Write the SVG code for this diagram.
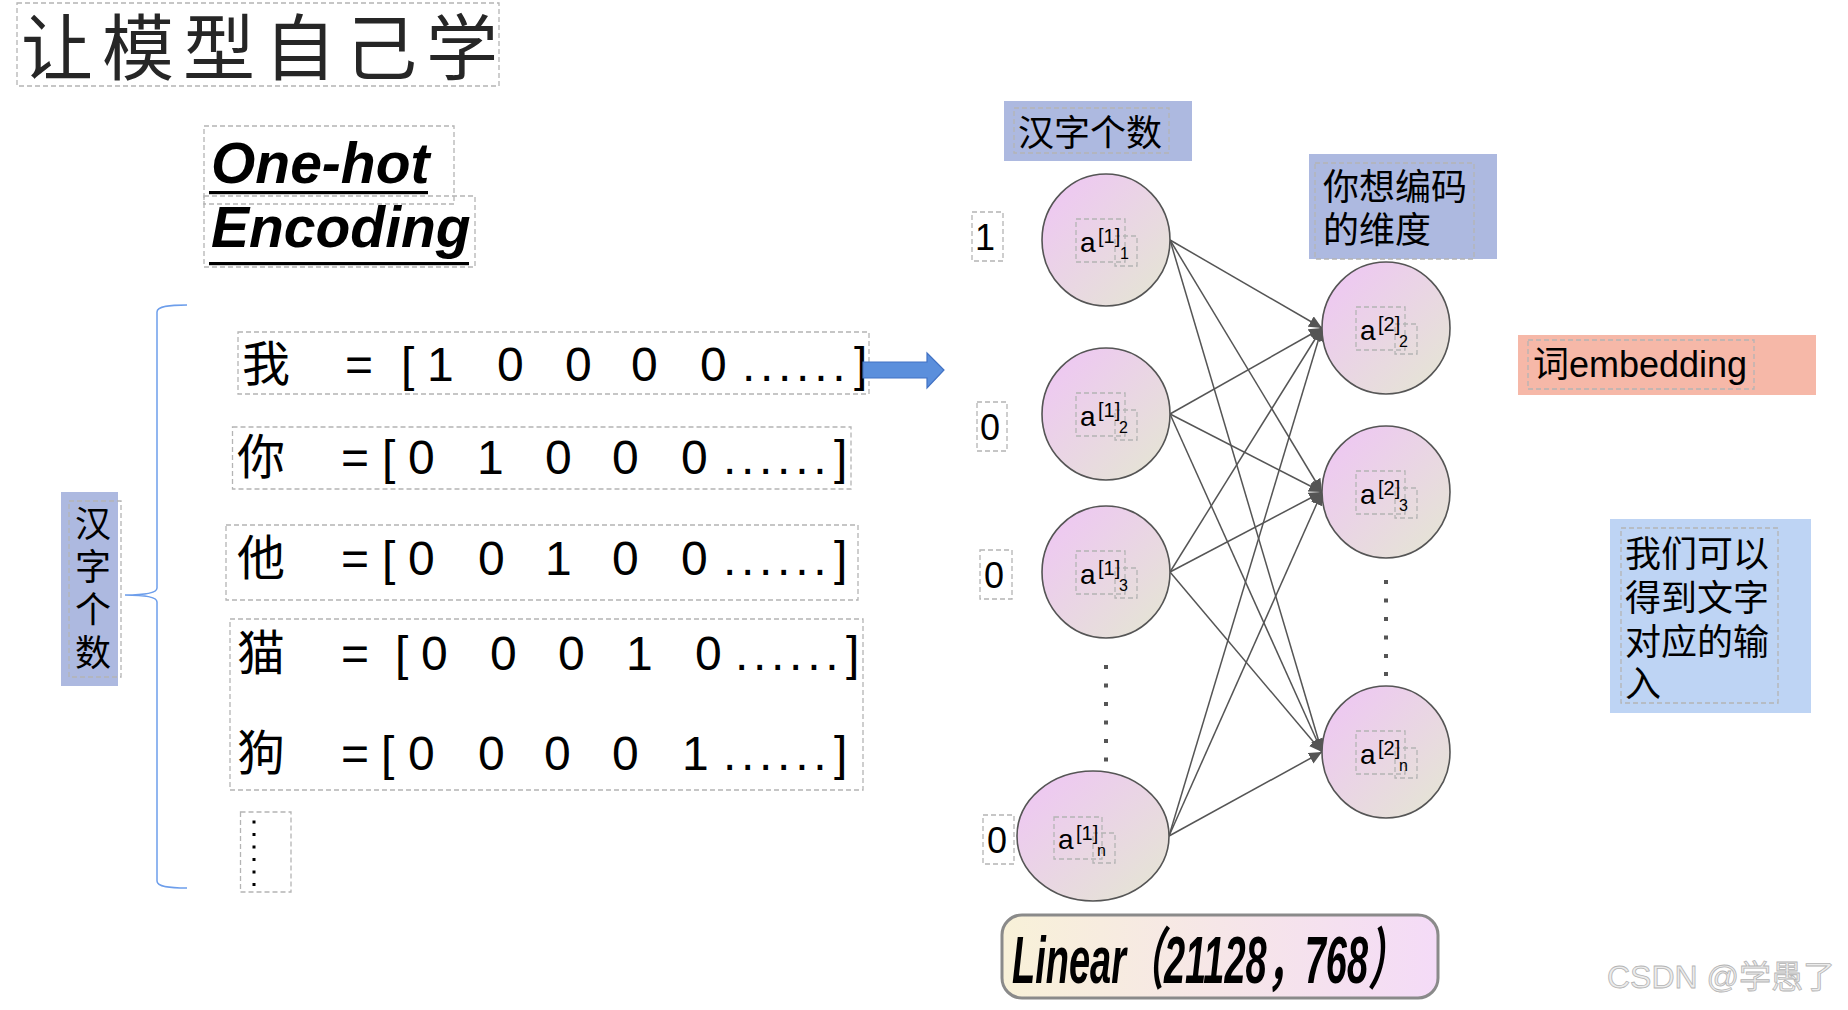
<svg xmlns="http://www.w3.org/2000/svg" width="1848" height="1010" viewBox="0 0 1848 1010">
<defs>
<linearGradient id="ng" x1="0" y1="0" x2="1" y2="1">
<stop offset="0" stop-color="#efc4f6"/>
<stop offset="1" stop-color="#e4e7d2"/>
</linearGradient>
<linearGradient id="lg" x1="0" y1="0" x2="1" y2="0">
<stop offset="0" stop-color="#f8f1d8"/>
<stop offset="1" stop-color="#f4dbf7"/>
</linearGradient>
<marker id="ah" markerUnits="userSpaceOnUse" markerWidth="14" markerHeight="12" refX="13" refY="6" orient="auto">
<path d="M0,0 L13,6 L0,12 z" fill="#555"/>
</marker>
<style>
.dash{fill:none;stroke:#b4b4b4;stroke-width:1.3;stroke-dasharray:5 3}
.node{fill:url(#ng);stroke:#555;stroke-width:1.6}
.edge{stroke:#555;stroke-width:1.5;fill:none;marker-end:url(#ah)}
.row{font-family:"Liberation Sans","Noto Sans CJK SC",sans-serif;font-size:48px;fill:#000}
.dots{letter-spacing:4.7px}
.cjk{font-family:"Noto Sans CJK SC",sans-serif;fill:#000}
.lab{font-family:"Liberation Sans","Noto Sans CJK SC",sans-serif;font-size:36px;fill:#000}
.na{font-family:"Liberation Sans",sans-serif;fill:#000}
.dot{fill:#555}
</style>
</defs>
<rect width="1848" height="1010" fill="#fff"/>

<g id="title">
<rect class="dash" x="17" y="3" width="482" height="83"/>
<text x="21" y="74" font-family="Noto Sans CJK SC, sans-serif" font-size="72" letter-spacing="9" fill="#262626">让模型自己学</text>
</g>

<g id="onehot">
<rect class="dash" x="204" y="126" width="250" height="78"/>
<text x="211" y="183" font-family="Liberation Sans, sans-serif" font-size="57" font-weight="bold" font-style="italic">One-hot</text>
<rect x="209" y="191" width="219" height="3.2" fill="#000"/>
</g>
<g id="encoding">
<rect class="dash" x="204" y="196" width="271" height="71"/>
<text x="211" y="247" font-family="Liberation Sans, sans-serif" font-size="57" font-weight="bold" font-style="italic">Encoding</text>
<rect x="209" y="262" width="260" height="3.2" fill="#000"/>
</g>

<g id="brace">
<path d="M187,305 C170,305 157,306 157,312 L157,588 C157,593 146,595 125,595 C146,595 157,597 157,602 L157,881 C157,887 170,888 187,888" fill="none" stroke="#6d9eeb" stroke-width="1.5"/>
</g>

<g id="count-label-left">
<rect x="61" y="492" width="57" height="194" fill="#adb9e0"/>
<rect class="dash" x="69" y="501" width="52" height="176"/>
<text class="cjk" font-size="36" text-anchor="middle"><tspan x="93" y="537">汉</tspan><tspan x="93" y="580">字</tspan><tspan x="93" y="623">个</tspan><tspan x="93" y="666">数</tspan></text>
</g>

<g id="row-wo">
<rect class="dash" x="238" y="332" width="631" height="62"/>
<text class="row" y="381"><tspan x="242">我</tspan><tspan x="345">=</tspan><tspan x="401">[</tspan><tspan x="427">1</tspan><tspan x="497">0</tspan><tspan x="565">0</tspan><tspan x="631">0</tspan><tspan x="700">0</tspan><tspan class="dots" x="742">......</tspan><tspan x="854">]</tspan></text>
</g>
<g id="arrow">
<polygon points="863,362 927,362 927,353 944,370 927,388 927,378 863,378" fill="#5b8fdc" stroke="#4272c4" stroke-width="1.2"/>
</g>
<g id="row-ni">
<rect class="dash" x="232.5" y="427" width="618.5" height="62"/>
<text class="row" y="474"><tspan x="237">你</tspan><tspan x="341">=</tspan><tspan x="382">[</tspan><tspan x="408">0</tspan><tspan x="477">1</tspan><tspan x="545">0</tspan><tspan x="612">0</tspan><tspan x="681">0</tspan><tspan class="dots" x="723">......</tspan><tspan x="834">]</tspan></text>
</g>
<g id="row-ta">
<rect class="dash" x="226" y="525" width="632" height="75"/>
<text class="row" y="575"><tspan x="237">他</tspan><tspan x="341">=</tspan><tspan x="382">[</tspan><tspan x="408">0</tspan><tspan x="478">0</tspan><tspan x="545">1</tspan><tspan x="612">0</tspan><tspan x="681">0</tspan><tspan class="dots" x="723">......</tspan><tspan x="834">]</tspan></text>
</g>
<g id="row-mao-gou">
<rect class="dash" x="230" y="619" width="633" height="171"/>
<text class="row" y="670"><tspan x="237">猫</tspan><tspan x="341">=</tspan><tspan x="395">[</tspan><tspan x="421">0</tspan><tspan x="490">0</tspan><tspan x="558">0</tspan><tspan x="626">1</tspan><tspan x="695">0</tspan><tspan class="dots" x="735">......</tspan><tspan x="846">]</tspan></text>
<text class="row" y="770"><tspan x="237">狗</tspan><tspan x="341">=</tspan><tspan x="381">[</tspan><tspan x="408">0</tspan><tspan x="478">0</tspan><tspan x="544">0</tspan><tspan x="612">0</tspan><tspan x="682">1</tspan><tspan class="dots" x="723">......</tspan><tspan x="834">]</tspan></text>
</g>
<g id="row-more">
<rect class="dash" x="240.5" y="812" width="50.5" height="80"/>
<g fill="#000"><rect x="252.5" y="820.5" width="3" height="3"/><rect x="252.5" y="833" width="3" height="3"/><rect x="252.5" y="845.5" width="3" height="3"/><rect x="252.5" y="858" width="3" height="3"/><rect x="252.5" y="870.5" width="3" height="3"/><rect x="252.5" y="883" width="3" height="3"/></g>
</g>

<g id="count-label-top">
<rect x="1004" y="101" width="188" height="60" fill="#adb9e0"/>
<rect class="dash" x="1014" y="108" width="155" height="45"/>
<text class="lab" x="1018" y="146">汉字个数</text>
</g>
<g id="dim-label">
<rect x="1309" y="154" width="188" height="105" fill="#adb9e0"/>
<rect class="dash" x="1315" y="163" width="159" height="96"/>
<text class="lab"><tspan x="1323" y="200">你想编码</tspan><tspan x="1323" y="243">的维度</tspan></text>
</g>
<g id="embedding-label">
<rect x="1518" y="335" width="298" height="60" fill="#f6b8a8"/>
<rect class="dash" x="1528" y="340" width="226" height="49"/>
<text class="lab" x="1533" y="377">词embedding</text>
</g>
<g id="input-label">
<rect x="1610" y="519" width="201" height="194" fill="#bed4f4"/>
<rect class="dash" x="1621" y="528" width="157" height="175"/>
<text class="lab"><tspan x="1625" y="567">我们可以</tspan><tspan x="1625" y="611">得到文字</tspan><tspan x="1625" y="655">对应的输</tspan><tspan x="1625" y="697">入</tspan></text>
</g>

<g id="connectors">
<line class="edge" x1="1170" y1="240" x2="1322" y2="328"/>
<line class="edge" x1="1170" y1="240" x2="1322" y2="492"/>
<line class="edge" x1="1170" y1="240" x2="1322" y2="752"/>
<line class="edge" x1="1170" y1="414" x2="1322" y2="328"/>
<line class="edge" x1="1170" y1="414" x2="1322" y2="492"/>
<line class="edge" x1="1170" y1="414" x2="1322" y2="752"/>
<line class="edge" x1="1170" y1="572" x2="1322" y2="328"/>
<line class="edge" x1="1170" y1="572" x2="1322" y2="492"/>
<line class="edge" x1="1170" y1="572" x2="1322" y2="752"/>
<line class="edge" x1="1169" y1="836" x2="1322" y2="328"/>
<line class="edge" x1="1169" y1="836" x2="1322" y2="492"/>
<line class="edge" x1="1169" y1="836" x2="1322" y2="752"/>
</g>

<g id="in-1">
<rect class="dash" x="972" y="212" width="31" height="49"/>
<text class="lab" x="975" y="250">1</text>
</g>
<g id="in-2">
<rect class="dash" x="977" y="402" width="30" height="49"/>
<text class="lab" x="980" y="440">0</text>
</g>
<g id="in-3">
<rect class="dash" x="980" y="550" width="32" height="49"/>
<text class="lab" x="984" y="588">0</text>
</g>
<g id="in-n">
<rect class="dash" x="983" y="815" width="31" height="49"/>
<text class="lab" x="987" y="853">0</text>
</g>

<g id="a1-1">
<ellipse class="node" cx="1106" cy="240" rx="64" ry="66"/>
<rect class="dash" x="1076" y="219" width="49" height="43"/>
<rect class="dash" x="1115" y="236" width="22" height="30"/>
<text class="na"><tspan x="1080" y="252" font-size="28">a</tspan><tspan x="1098" y="243" font-size="20">[1]</tspan><tspan x="1120" y="259" font-size="16">1</tspan></text>
</g>
<g id="a1-2">
<ellipse class="node" cx="1106" cy="414" rx="64" ry="66"/>
<rect class="dash" x="1076" y="393" width="49" height="43"/>
<rect class="dash" x="1115" y="410" width="22" height="30"/>
<text class="na"><tspan x="1080" y="426" font-size="28">a</tspan><tspan x="1098" y="417" font-size="20">[1]</tspan><tspan x="1119" y="433" font-size="16">2</tspan></text>
</g>
<g id="a1-3">
<ellipse class="node" cx="1106" cy="572" rx="64" ry="66"/>
<rect class="dash" x="1076" y="551" width="49" height="43"/>
<rect class="dash" x="1115" y="568" width="22" height="30"/>
<text class="na"><tspan x="1080" y="584" font-size="28">a</tspan><tspan x="1098" y="575" font-size="20">[1]</tspan><tspan x="1119" y="591" font-size="16">3</tspan></text>
</g>
<g id="a1-dots" class="dot">
<rect x="1104" y="665" width="4" height="4"/><rect x="1104" y="683.5" width="4" height="4"/><rect x="1104" y="702" width="4" height="4"/><rect x="1104" y="720.5" width="4" height="4"/><rect x="1104" y="739" width="4" height="4"/><rect x="1104" y="757.5" width="4" height="4"/>
</g>
<g id="a1-n">
<ellipse class="node" cx="1093" cy="836" rx="76" ry="65"/>
<rect class="dash" x="1054" y="817" width="48" height="42"/>
<rect class="dash" x="1093" y="833" width="22" height="30"/>
<text class="na"><tspan x="1058" y="849" font-size="28">a</tspan><tspan x="1076" y="840" font-size="20">[1]</tspan><tspan x="1097" y="856" font-size="16">n</tspan></text>
</g>

<g id="a2-2">
<ellipse class="node" cx="1386" cy="328" rx="64" ry="66"/>
<rect class="dash" x="1356" y="307" width="49" height="43"/>
<rect class="dash" x="1395" y="324" width="22" height="30"/>
<text class="na"><tspan x="1360" y="340" font-size="28">a</tspan><tspan x="1378" y="331" font-size="20">[2]</tspan><tspan x="1399" y="347" font-size="16">2</tspan></text>
</g>
<g id="a2-3">
<ellipse class="node" cx="1386" cy="492" rx="64" ry="66"/>
<rect class="dash" x="1356" y="471" width="49" height="43"/>
<rect class="dash" x="1395" y="488" width="22" height="30"/>
<text class="na"><tspan x="1360" y="504" font-size="28">a</tspan><tspan x="1378" y="495" font-size="20">[2]</tspan><tspan x="1399" y="511" font-size="16">3</tspan></text>
</g>
<g id="a2-dots" class="dot">
<rect x="1384" y="580" width="4" height="4"/><rect x="1384" y="598.5" width="4" height="4"/><rect x="1384" y="617" width="4" height="4"/><rect x="1384" y="635.5" width="4" height="4"/><rect x="1384" y="654" width="4" height="4"/><rect x="1384" y="672" width="4" height="4"/>
</g>
<g id="a2-n">
<ellipse class="node" cx="1386" cy="752" rx="64" ry="66"/>
<rect class="dash" x="1356" y="731" width="49" height="43"/>
<rect class="dash" x="1395" y="748" width="22" height="30"/>
<text class="na"><tspan x="1360" y="764" font-size="28">a</tspan><tspan x="1378" y="755" font-size="20">[2]</tspan><tspan x="1399" y="771" font-size="16">n</tspan></text>
</g>

<g id="linear">
<rect x="1002" y="915" width="436" height="83" rx="20" fill="url(#lg)" stroke="#8a8a8a" stroke-width="3"/>
<text x="1012" y="983" font-family="Liberation Sans, Noto Sans CJK SC, sans-serif" font-size="67" font-weight="bold" font-style="italic" textLength="394" lengthAdjust="spacingAndGlyphs">Linear（21128，768）</text>
</g>

<g id="watermark">
<text x="1607" y="988" font-family="Liberation Sans, Noto Sans CJK SC, sans-serif" font-size="32" fill="#ececec" stroke="#b4b4b4" stroke-width="0.8">CSDN @学愚了</text>
</g>
</svg>
